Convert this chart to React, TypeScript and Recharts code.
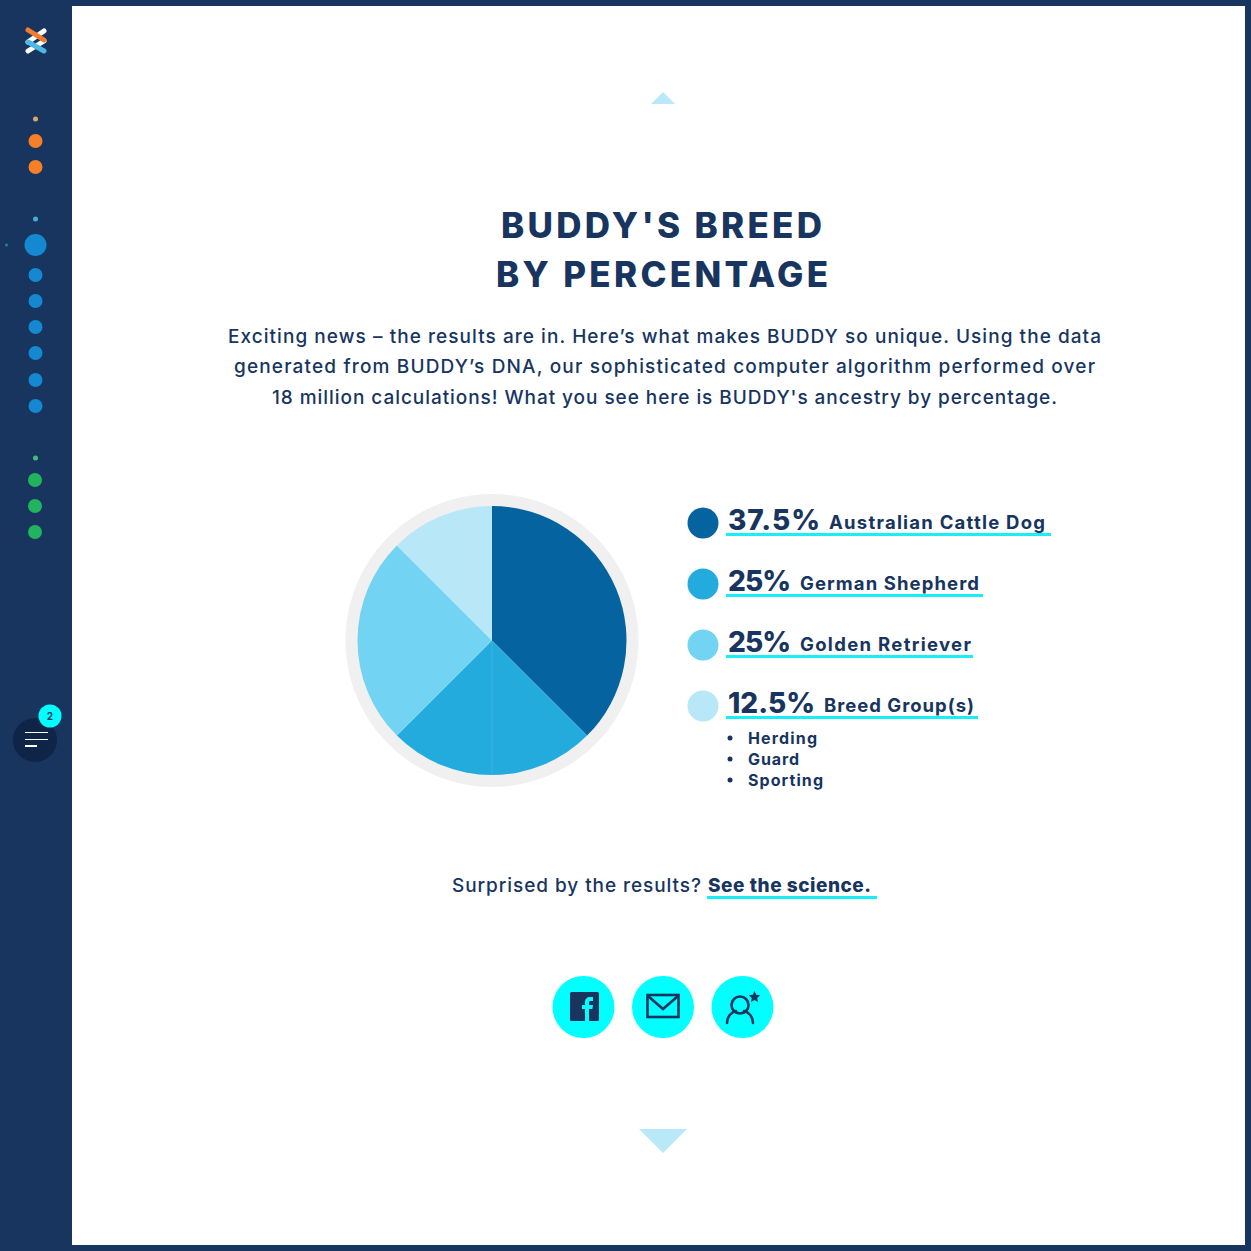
import { PieChart, Pie, Cell } from "recharts";

// chart values
const breedNames = ["Australian Cattle Dog", "German Shepherd", "Golden Retriever", "Breed Group(s)"];
const breedValues = [37.5, 25, 25, 12.5];
const breedLabels = ["37.5%", "25%", "25%", "12.5%"];
const breedColors = ["#05639f", "#23abdd", "#72d3f3", "#b8e7f8"];
const ringValues = [100];
const breedGroups = ["Herding", "Guard", "Sporting"];

const titleLines = ["BUDDY'S BREED", "BY PERCENTAGE"];
const bodyLines = [
  "Exciting news – the results are in. Here’s what makes BUDDY so unique. Using the data",
  "generated from BUDDY’s DNA, our sophisticated computer algorithm performed over",
  "18 million calculations! What you see here is BUDDY's ancestry by percentage.",
];

// measured layout, kept apart from the values
const titleFit = [{ x: 501, w: 321, y: 238 }, { x: 496, w: 332, y: 287 }];
const bodyFit = [{ x: 228, w: 873, y: 343 }, { x: 234, w: 861, y: 373 }, { x: 272, w: 785, y: 404 }];
const pctWidth = [92, 63, 63, 87];
const nameFit = [{ x: 829, w: 216 }, { x: 800, w: 179 }, { x: 800, w: 171 }, { x: 824, w: 150 }];
const lineEnd = [1051, 983, 973, 978];
const groupWidth = [69, 51, 75];
const orangeDots = [141, 167];
const blueDots = [275, 301, 327, 353, 380, 406];
const greenDots = [480, 506, 532];

const NAVY = "#17355f";
const CYAN = "#18eef5";
const FONT = "Inter, 'Open Sans', sans-serif";

function Fit({ x, y, w, size, weight = 500, children }: any) {
  return (
    <text x={x} y={y} fontSize={size} fontWeight={weight} fill={NAVY} fontFamily={FONT}
      textLength={w} lengthAdjust="spacing">
      {children}
    </text>
  );
}

function Sidebar() {
  return (
    <g>
      {/* logo */}
      <g strokeWidth={5} strokeLinecap="round">
        <line x1={44} y1={31} x2={28} y2={42} stroke="#fff" />
        <line x1={44} y1={41} x2={28} y2={51} stroke="#fff" />
        <line x1={28} y1={42} x2={44} y2={51} stroke="#4db8e4" />
        <line x1={28} y1={30} x2={44} y2={40} stroke="#f47b2c" />
      </g>
      <circle cx={35.5} cy={119} r={2.5} fill="#dba66d" />
      {orangeDots.map((y) => <circle key={y} cx={35.5} cy={y} r={7} fill="#f67f28" />)}
      <circle cx={35.5} cy={219} r={2.5} fill="#3fb0d8" />
      <circle cx={35.5} cy={245} r={11} fill="#1489d1" />
      <circle cx={6.5} cy={245} r={1.5} fill="#1e7fb8" />
      {blueDots.map((y) => <circle key={y} cx={35.5} cy={y} r={7} fill="#1489d1" />)}
      <circle cx={35.5} cy={458} r={2.5} fill="#3fbf78" />
      {greenDots.map((y) => <circle key={y} cx={35} cy={y} r={7} fill="#22b35e" />)}
      {/* menu button */}
      <circle cx={35} cy={740} r={22} fill="#0f2547" />
      <rect x={25} y={732} width={23} height={1} fill="#fff" />
      <rect x={25} y={739} width={23} height={1} fill="#fff" />
      <rect x={25} y={745} width={12} height={2} fill="#fff" />
      <circle cx={50} cy={716} r={11.5} fill="#0ff" />
      <text x={50} y={720} textAnchor="middle" fontSize={10} fontWeight={700} fill={NAVY} fontFamily={FONT}>2</text>
    </g>
  );
}

function Legend() {
  return (
    <g>
      {breedNames.map((name, i) => {
        const y = 530 + i * 61;
        return (
          <g key={name}>
            <circle cx={703} cy={523 + i * 61} r={15.5} fill={breedColors[i]} />
            <Fit x={728} y={y} w={pctWidth[i]} size={28} weight={800}>{breedLabels[i]}</Fit>
            <Fit x={nameFit[i].x} y={y - 1} w={nameFit[i].w} size={18.5} weight={700}>{name}</Fit>
            <rect x={726} y={y + 3} width={lineEnd[i] - 726} height={3} fill={CYAN} />
          </g>
        );
      })}
      {breedGroups.map((g, i) => (
        <g key={g}>
          <circle cx={730} cy={738 + i * 21} r={2.5} fill={NAVY} />
          <Fit x={748} y={744 + i * 21} w={groupWidth[i]} size={16} weight={700}>{g}</Fit>
        </g>
      ))}
    </g>
  );
}

function Socials() {
  return (
    <g>
      <circle cx={583.5} cy={1007} r={31} fill="#0ff" />
      <circle cx={663} cy={1007} r={31} fill="#0ff" />
      <circle cx={742.5} cy={1007} r={31} fill="#0ff" />
      {/* facebook */}
      <rect x={570} y={992} width={29} height={29} rx={1.5} fill={NAVY} />
      <path d="M585 1021v-12h-3v-4h3v-3c0-3 2-5 5-5h3v4h-2c-1.5 0-2 .6-2 2v2h4l-.6 4H589v12z" fill="#0ff" />
      {/* mail */}
      <rect x={647.5} y={995} width={31} height={22} fill="none" stroke={NAVY} strokeWidth={2.6} />
      <path d="M648 996l15 13 15-13" fill="none" stroke={NAVY} strokeWidth={2.6} />
      {/* person */}
      <circle cx={740} cy={1005} r={8.5} fill="none" stroke={NAVY} strokeWidth={2.6} />
      <path d="M727 1023c0-7 5-11 9-12M753 1023c0-7-5-11-9-12" fill="none" stroke={NAVY} strokeWidth={2.6} strokeLinecap="round" />
      <path d="M754.500 991l1.700 3.700 4 .5-3 2.700.8 4-3.500-2-3.500 2 .8-4-3-2.700 4-.5z" fill={NAVY} />
    </g>
  );
}

export default function App() {
  const pieData = breedNames.map((name, i) => ({ name, value: breedValues[i] }));
  const ringData = ringValues.map((value) => ({ name: "ring", value }));

  return (
    <div style={{ position: "absolute", left: 0, top: 0, width: 1251, height: 1251, background: NAVY, overflow: "hidden" }}>
      <div style={{ position: "absolute", left: 72, top: 6, width: 1173, height: 1239, background: "#fff" }} />

      <div style={{ position: "absolute", left: 0, top: 0 }}>
        <PieChart width={1251} height={1251} margin={{ top: 0, right: 0, bottom: 0, left: 0 }}>
          <Pie data={ringData} dataKey="value" cx={492} cy={640.500} outerRadius={146.500} innerRadius={130}
            startAngle={90} endAngle={-270} stroke="none" fill="#f0f0f1" isAnimationActive={false} />
          <Pie data={pieData} dataKey="value" cx={492} cy={640.500} outerRadius={134.500}
            startAngle={90} endAngle={-270} stroke="none" isAnimationActive={false}>
            {pieData.map((d, i) => <Cell key={d.name} fill={breedColors[i]} />)}
          </Pie>
        </PieChart>
      </div>

      <svg width={1251} height={1251} style={{ position: "absolute", left: 0, top: 0, pointerEvents: "none" }}>
        <Sidebar />
        <polygon points="651,104 675,104 663,92" fill="#b9e8f8" />
        <polygon points="639,1129 687,1129 663,1153" fill="#b9e8f8" />
        {/* faint seam in the reference's medium slice */}
        <rect x={491.500} y={641} width={1} height={134} fill="#3bb4e2" />

        {titleLines.map((t, i) => (
          <Fit key={t} x={titleFit[i].x} y={titleFit[i].y} w={titleFit[i].w} size={35} weight={800}>{t}</Fit>
        ))}
        {bodyLines.map((t, i) => (
          <Fit key={i} x={bodyFit[i].x} y={bodyFit[i].y} w={bodyFit[i].w} size={19} weight={500}>{t}</Fit>
        ))}

        <Legend />

        <Fit x={452} y={892} w={249} size={19} weight={500}>Surprised by the results?</Fit>
        <Fit x={708} y={892} w={163} size={19} weight={800}>See the science.</Fit>
        <rect x={707} y={896} width={170} height={3} fill={CYAN} />

        <Socials />
      </svg>
    </div>
  );
}
